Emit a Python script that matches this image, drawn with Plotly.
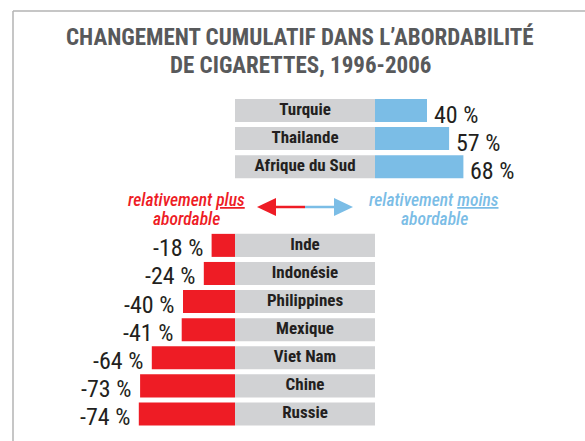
import plotly.graph_objects as go

# ---- data ----
pos_countries = ["Turquie", "Thailande", "Afrique du Sud"]
pos_values = [40, 57, 68]
neg_countries = ["Inde", "Indonésie", "Philippines", "Mexique", "Viet Nam", "Chine", "Russie"]
neg_values = [-18, -24, -40, -41, -64, -73, -74]
title_lines = ["CHANGEMENT CUMULATIF DANS L’ABORDABILITÉ", "DE CIGARETTES, 1996-2006"]
left_lines = ["relativement <u>plus</u>", "abordable"]
right_lines = ["relativement <u>moins</u>", "abordable"]

# ---- layout constants ----
W, H = 585, 441
PXU = 1.3            # pixels per % unit
ZERO_PX = 235        # pixel position of negative-bar zero
BOX_PX = 140         # grey label box width in pixels
G = BOX_PX / PXU     # grey box width in % units
PITCH = 28.1         # pixels per row
ROW0_PX = 110.5      # centre of first row
GAP_ROWS = 2.8       # offset of second group start

RED = "#ee1c25"
BLUE = "#7bbde6"
GREY = "#d1d2d4"
DARK = "#231f20"
FONT = "Roboto Condensed, Open Sans Condensed, Roboto, sans-serif"

pos_y = [i for i in range(len(pos_countries))]
neg_y = [len(pos_countries) - 1 + GAP_ROWS + i for i in range(len(neg_countries))]


def px(x):
    return x / W


def py(y):
    return 1 - y / H


fig = go.Figure()

all_y = pos_y + neg_y
all_names = pos_countries + neg_countries
# grey label boxes
fig.add_trace(go.Bar(
    y=all_y, x=[G] * len(all_y), base=0, orientation="h",
    marker=dict(color=GREY, line=dict(width=0)), width=0.82, hoverinfo="skip",
))
# positive bars (blue), starting at right edge of grey box
fig.add_trace(go.Bar(
    y=pos_y, x=pos_values, base=G, orientation="h",
    marker=dict(color=BLUE, line=dict(width=0)), width=0.82, hoverinfo="skip",
))
# negative bars (red)
fig.add_trace(go.Bar(
    y=neg_y, x=neg_values, base=0, orientation="h",
    marker=dict(color=RED, line=dict(width=0)), width=0.82, hoverinfo="skip",
))
# country names
fig.add_trace(go.Scatter(
    y=all_y, x=[G / 2] * len(all_y), mode="text", text=all_names,
    textposition="middle center",
    textfont=dict(family=FONT, size=17, color=DARK, weight="bold"),
    hoverinfo="skip",
))

annotations = []
for v, y in zip(pos_values, pos_y):
    annotations.append(dict(
        x=G + v, y=y, xref="x", yref="y", text=f"{v} %", showarrow=False,
        xanchor="left", yanchor="middle", xshift=5, yshift=-4,
        font=dict(family=FONT, size=24, color=DARK),
    ))
for v, y in zip(neg_values, neg_y):
    annotations.append(dict(
        x=v, y=y, xref="x", yref="y", text=f"{v} %", showarrow=False,
        xanchor="right", yanchor="middle", xshift=-7, yshift=-3,
        font=dict(family=FONT, size=24, color=DARK),
    ))

# title (two lines)
for line, yc in zip(title_lines, [37.5, 65]):
    annotations.append(dict(
        x=px(300), y=py(yc), xref="paper", yref="paper",
        text=line, showarrow=False,
        xanchor="center", yanchor="middle", align="center",
        font=dict(family=FONT, size=23, color="#58595b", weight="bold"),
    ))
# direction labels
for lines, xc, col in [(left_lines, 187, RED), (right_lines, 434, BLUE)]:
    for line, yc in zip(lines, [200, 219]):
        annotations.append(dict(
            x=px(xc), y=py(yc), xref="paper", yref="paper",
            text=line, showarrow=False,
            xanchor="center", yanchor="middle", align="center",
            font=dict(family=FONT, size=17.5, color=col, style="italic", weight=500),
        ))

shapes = [
    # frame
    dict(type="line", xref="paper", yref="paper", x0=px(13), x1=px(W), y0=py(11), y1=py(11),
         line=dict(color="#b3b3b3", width=1.5)),
    dict(type="line", xref="paper", yref="paper", x0=px(13), x1=px(13), y0=py(11), y1=py(H),
         line=dict(color="#b3b3b3", width=1.5)),
    # arrow shafts
    dict(type="line", xref="paper", yref="paper", x0=px(274), x1=px(305), y0=py(207), y1=py(207),
         line=dict(color=RED, width=2.5)),
    dict(type="line", xref="paper", yref="paper", x0=px(305), x1=px(336), y0=py(207), y1=py(207),
         line=dict(color=BLUE, width=2.5)),
    # arrow heads
    dict(type="path", xref="paper", yref="paper",
         path=f"M {px(257)},{py(207)} L {px(276)},{py(198)} L {px(276)},{py(216)} Z",
         fillcolor=RED, line=dict(width=0)),
    dict(type="path", xref="paper", yref="paper",
         path=f"M {px(353)},{py(207)} L {px(334)},{py(198)} L {px(334)},{py(216)} Z",
         fillcolor=BLUE, line=dict(width=0)),
]

y_top = -ROW0_PX / PITCH
y_bot = y_top + H / PITCH

fig.update_layout(
    width=W, height=H,
    margin=dict(l=0, r=0, t=0, b=0),
    paper_bgcolor="white", plot_bgcolor="white",
    showlegend=False, barmode="overlay",
    xaxis=dict(range=[-ZERO_PX / PXU, (W - ZERO_PX) / PXU], visible=False, fixedrange=True),
    yaxis=dict(range=[y_bot, y_top], visible=False, fixedrange=True),
    annotations=annotations, shapes=shapes,
)

fig.write_html("out.html", config={"displayModeBar": False},
               post_script="document.body.style.margin='0';")
